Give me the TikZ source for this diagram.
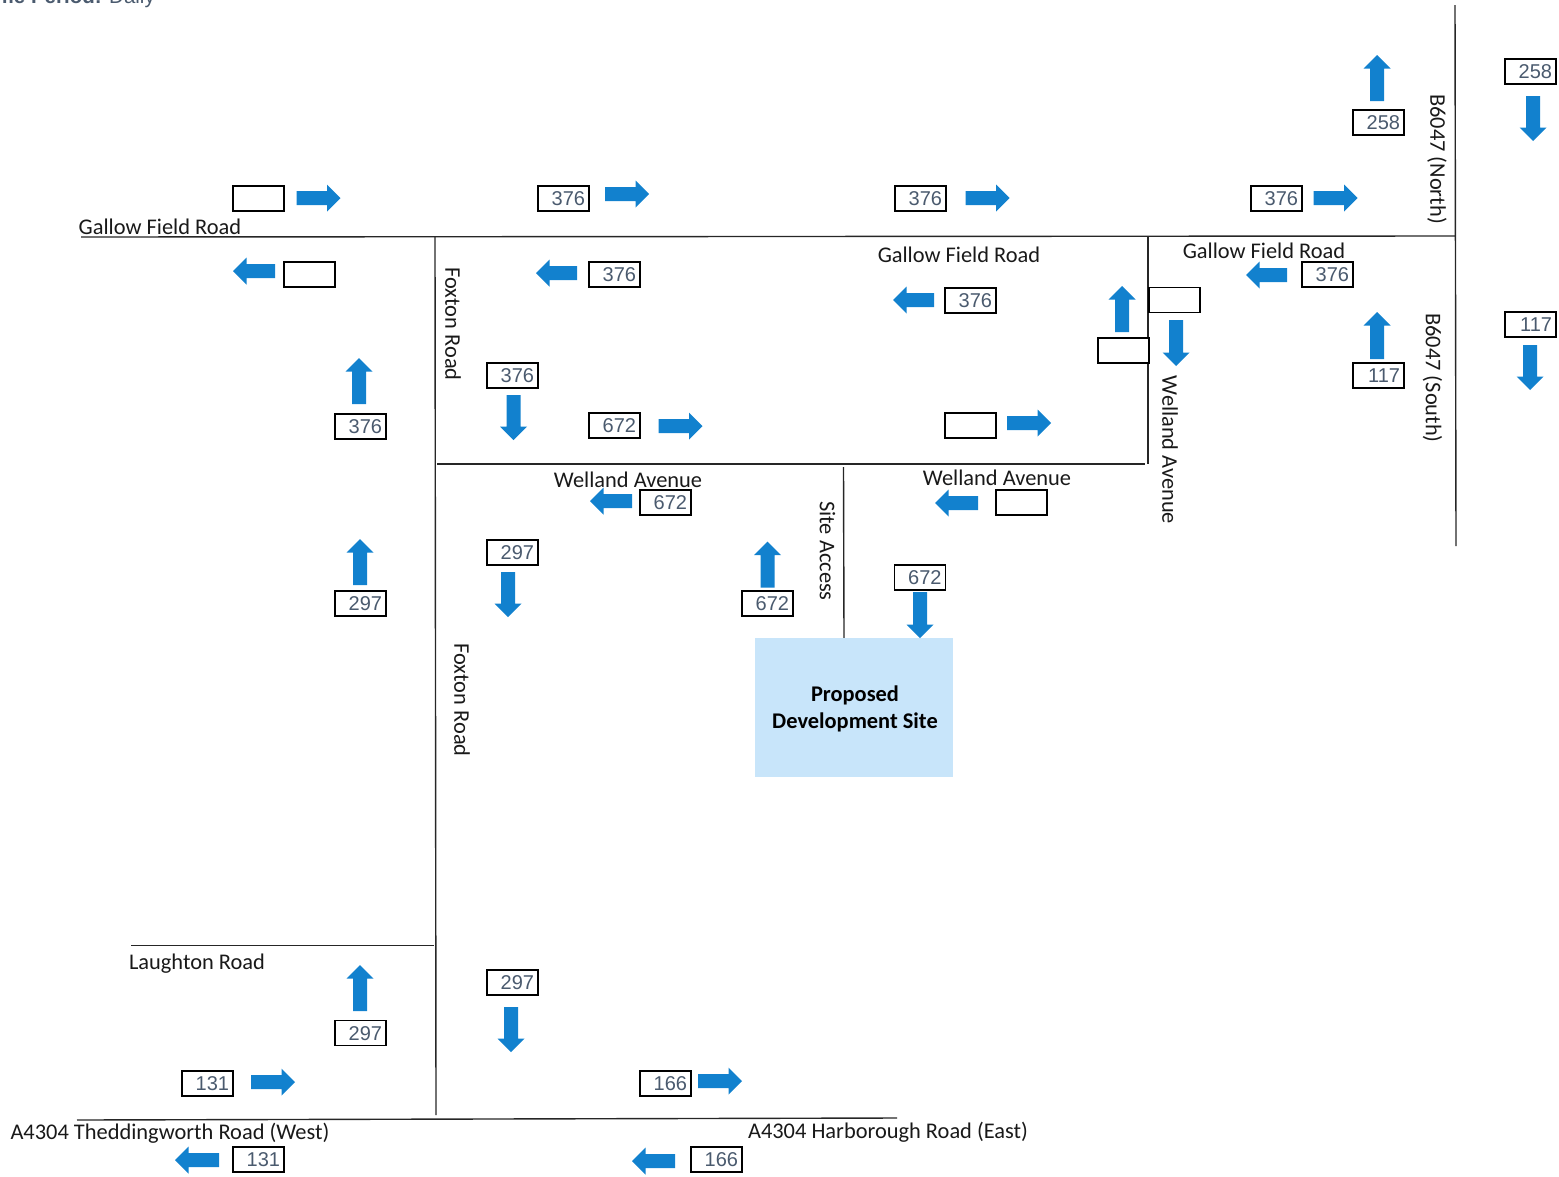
\documentclass[tikz,border=0pt]{standalone}
\usepackage{fontspec}
\setmainfont{Carlito}
\newfontfamily\numfont{Liberation Sans}
\definecolor{flowblue}{HTML}{1281CE}
\definecolor{numgrey}{HTML}{4A5A6E}
\definecolor{sitefill}{HTML}{C8E5FA}
\tikzset{
  road/.style={draw=black!85,line width=1.4pt},
  countbox/.style={draw=black,line width=1.8pt,fill=white,minimum width=51pt,minimum height=25pt,text width=43pt,inner xsep=4pt,inner ysep=2pt,align=right,font=\numfont\fontsize{20}{22}\selectfont,text=numgrey},
  label/.style={font=\fontsize{22.4}{25}\selectfont,text=black!90,inner sep=0pt},
  flowarrow/.style={fill=flowblue,draw=none},
}
\newcommand\flow[4][22]{\fill[flowarrow,shift={(#2,#3)},rotate=#4] (-#1,-7) -- ({#1-13.5},-7) -- ({#1-13.5},-13.5) -- (#1,0) -- ({#1-13.5},13.5) -- ({#1-13.5},7) -- (-#1,7) -- cycle;}
\newcommand\cbox[4]{\node[countbox] (#1) at (#2,#3) {\raisebox{-0.5pt}[\height][\depth]{#4}};}
\begin{document}
\begin{tikzpicture}[x=1pt,y=-1pt]
\useasboundingbox (0,0) rectangle (1559,1176);
\clip (0,0) rectangle (1559,1176);
% clipped heading
\node[anchor=base east,inner sep=0pt,text=numgrey,font=\numfont\fontsize{20.5}{22}\selectfont] (heading) at (155,3.5) {\textbf{Time Period:} Daily};
% road ends
\coordinate (g1) at (81,237); \coordinate (g2) at (1455,236);
\coordinate (n1) at (1455,5); \coordinate (n2) at (1456,546);
\coordinate (f1) at (435,237); \coordinate (f2) at (436,1115);
\coordinate (w1) at (1148,237); \coordinate (w2) at (1148,464);
\coordinate (h1) at (437,464); \coordinate (h2) at (1145,464);
\coordinate (s1) at (843.5,467); \coordinate (s2) at (844,638);
\coordinate (l1) at (131,945.5); \coordinate (l2) at (434,945.5);
\coordinate (a1) at (77,1120); \coordinate (a2) at (897,1118);
\draw[road] (g1) -- (g2);
\draw[road] (n1) -- (n2);
\draw[road] (f1) -- (f2);
\draw[road] (w1) -- (w2);
\draw[road] (h1) -- (h2);
\draw[road] (s1) -- (s2);
\draw[road] (l1) -- (l2);
\draw[road] (a1) -- (a2);
% site
\node[fill=sitefill,minimum width=198pt,minimum height=139pt,inner sep=0pt] (site) at (854,707.5) {};
\node[font=\fontsize{22.4}{27}\selectfont\bfseries,align=center,inner sep=0pt] (sitelabel) at (855,708.5) {Proposed\\Development Site};
% arrows
\flow{318.5}{198}{0}
\flow[21]{254}{271}{180}
\flow[23]{359}{381}{90}
\flow[23]{360}{562}{90}
\flow[23]{360}{988}{90}
\flow{273}{1082}{0}
\flow{197}{1160}{180}
\flow{720}{1081}{0}
\flow[21.5]{653.5}{1161}{180}
\flow[22.5]{511}{1029.5}{-90}
\flow[22.5]{508}{594.5}{-90}
\flow[22.5]{513.5}{417.5}{-90}
\flow{627}{194}{0}
\flow[20.5]{556.5}{273}{180}
\flow{680.5}{426}{0}
\flow[21]{611}{501}{180}
\flow[23]{767.5}{564.5}{90}
\flow[23]{920}{615}{-90}
\flow{1029}{423}{0}
\flow[21.5]{956.5}{503}{180}
\flow{987.5}{198}{0}
\flow[20.5]{913.5}{300}{180}
\flow[23]{1122}{309}{90}
\flow[23]{1176}{343}{-90}
\flow{1335.5}{198}{0}
\flow[20.5]{1266.5}{275}{180}
\flow[23]{1377}{78}{90}
\flow[22.5]{1533}{118.5}{-90}
\flow[23.5]{1377}{335.5}{90}
\flow[22.5]{1530}{367.5}{-90}
% count boxes
\cbox{b1}{258.5}{198.5}{}
\cbox{b2}{309.5}{274.5}{}
\cbox{b3}{360.5}{426.5}{376}
\cbox{b4}{360.5}{603.5}{297}
\cbox{b5}{360.5}{1033}{297}
\cbox{b6}{207.5}{1083.5}{131}
\cbox{b7}{258.5}{1159.5}{131}
\cbox{b8}{665.5}{1083.5}{166}
\cbox{b9}{716.5}{1159.5}{166}
\cbox{b10}{512.5}{982.5}{297}
\cbox{b11}{512.5}{552.5}{297}
\cbox{b12}{512.5}{375.5}{376}
\cbox{b13}{563.5}{198.5}{376}
\cbox{b14}{614.5}{274.5}{376}
\cbox{b15}{614.5}{425.5}{672}
\cbox{b16}{665.5}{502.5}{672}
\cbox{b17}{767.5}{603.5}{672}
\cbox{b18}{920}{577.5}{672}
\cbox{b19}{970.5}{425.5}{}
\cbox{b20}{1021.5}{502.5}{}
\cbox{b21}{920.5}{198.5}{376}
\cbox{b22}{970.5}{300.5}{376}
\cbox{b23}{1174.5}{300}{}
\cbox{b24}{1123.5}{350.5}{}
\cbox{b25}{1276.5}{198.5}{376}
\cbox{b26}{1327.5}{274.5}{376}
\cbox{b27}{1378.5}{122.5}{258}
\cbox{b28}{1378.5}{375.5}{117}
\cbox{b29}{1530.5}{71.5}{258}
\cbox{b30}{1530.5}{324.5}{117}
% road labels
\node[label] (t1) at (160,226.3) {Gallow Field Road};
\node[label] (t2) at (959,254.3) {Gallow Field Road};
\node[label] (t3) at (1264,250.3) {Gallow Field Road};
\node[label,rotate=-90] (t4) at (453,324) {Foxton Road};
\node[label,rotate=-90] (t5) at (462,700) {Foxton Road};
\node[label] (t6) at (628,479.3) {Welland Avenue};
\node[label] (t7) at (997,477.3) {Welland Avenue};
\node[label,rotate=-90] (t8) at (1170,450) {Welland Avenue};
\node[label,rotate=-90] (t9) at (827.5,551) {Site Access};
\node[label,rotate=-90] (t10) at (1437,159) {B6047 (North)};
\node[label,rotate=-90] (t11) at (1432.5,378) {B6047 (South)};
\node[label] (t12) at (197,964) {Laughton Road};
\node[label] (t13) at (170,1133.5) {A4304 Theddingworth Road (West)};
\node[label] (t14) at (888,1132.5) {A4304 Harborough Road (East)};
\end{tikzpicture}
\end{document}
